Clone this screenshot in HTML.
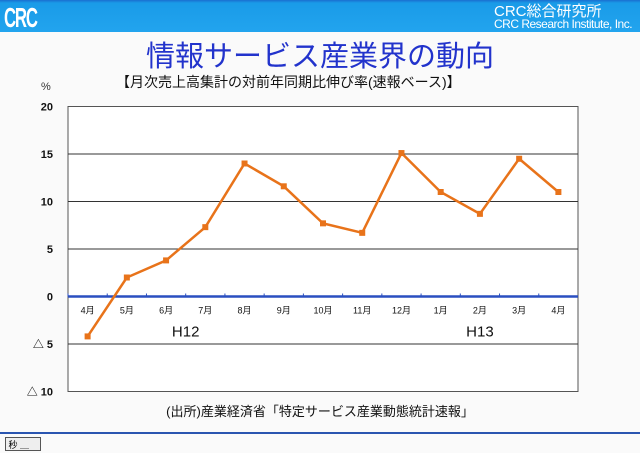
<!DOCTYPE html>
<html><head><meta charset="utf-8"><style>
body{margin:0;width:640px;height:453px;overflow:hidden;background:#fafafa;font-family:"Liberation Sans","Noto Sans CJK JP",sans-serif;position:relative}
.hdr{position:absolute;left:0;top:0;width:640px;height:32px;background:linear-gradient(#1a6fd0 0,#1a9be8 3px,#22a4ee 100%)}
.logo{position:absolute;left:4px;top:2px;color:#fff;font:bold 28px "Liberation Sans",sans-serif;letter-spacing:-2px;transform:scaleX(0.6);transform-origin:left}
.co1{position:absolute;left:494px;top:0px;color:#fff;font-size:15px}
.co2{position:absolute;left:494px;top:17px;color:#fff;font-size:12px;letter-spacing:-0.5px}
.title{position:absolute;left:0;width:640px;top:33px;text-align:center;color:#2233cc;font-size:29px}
.sub{position:absolute;left:116px;top:72px;font-size:14px;color:#111}
.foot{position:absolute;left:0;width:640px;top:401px;text-align:center;font-size:13px;color:#111}
.bline{position:absolute;left:0;top:432px;width:640px;height:2px;background:#2a55b0}
.btn{position:absolute;left:5px;top:437px;width:34px;height:12px;border:1px solid #555;background:#eee;font-size:9px}
</style></head><body>
<div class="hdr"></div>
<div class="logo">CRC</div>
<div class="co1">CRC総合研究所</div>
<div class="co2">CRC Research Institute, Inc.</div>
<div class="title">情報サービス産業界の動向</div>
<div class="sub">【月次売上高集計の対前年同期比伸び率(速報ベース)】</div>
<svg id="c" width="640" height="453" style="position:absolute;left:0;top:0"></svg>
<div class="foot">(出所)産業経済省「特定サービス産業動態統計速報」</div>
<div class="bline"></div>
<div class="btn">&nbsp;秒 ＿</div>
<script>
const categories=["4月","5月","6月","7月","8月","9月","10月","11月","12月","1月","2月","3月","4月"];
const values=[-4.2,2.0,3.8,7.3,14.0,11.6,7.7,6.7,15.1,11.0,8.7,14.5,11.0];
const yTicks=[20,15,10,5,0,-5,-10];
const yTickLabels=["20","15","10","5","0","△ 5","△ 10"];
const ns="http://www.w3.org/2000/svg",svg=document.getElementById('c');
const L=68,R=578,T=106.5,B=391.5,yMin=-10,yMax=20;
const y=v=>B-(v-yMin)/(yMax-yMin)*(B-T);
const step=(R-L)/categories.length;
const x=i=>L+step*(i+0.5);
function el(t,a,txt){const e=document.createElementNS(ns,t);for(const k in a)e.setAttribute(k,a[k]);if(txt!=null)e.textContent=txt;svg.appendChild(e);return e;}
let bg=el('rect',{x:L,y:T,width:R-L,height:B-T,fill:'#fff',stroke:'#555','stroke-width':1});

yTicks.forEach((v,i)=>{
 if(v!==0&&v!==yMin&&v!==yMax){const g=el('line',{x1:L,x2:R,y1:y(v),y2:y(v),stroke:'#333','stroke-width':1});
 }
 const t=el('text',{x:53,y:y(v)+4,'text-anchor':'end','font-size':11,'font-weight':'bold',fill:'#111','font-family':'"Liberation Sans","Noto Sans CJK JP",sans-serif'},yTickLabels[i]);
 
});
const pc=el('text',{x:41,y:90,'font-size':11,fill:'#333'},'%');

const z=el('line',{x1:L,x2:R,y1:y(0),y2:y(0),stroke:'#2a4fc0','stroke-width':2.5});

categories.forEach((c,i)=>{
 const tk=el('line',{x1:L+step*i,x2:L+step*i,y1:y(0)-3,y2:y(0),stroke:'#2a4fc0'});
 
 const t=el('text',{x:x(i),y:y(0)+17,'text-anchor':'middle','font-size':9,fill:'#111','font-family':'"Liberation Sans","Noto Sans CJK JP",sans-serif'},c);
 
});
[["H12",2.5],["H13",10]].forEach(([s,i])=>{const t=el('text',{x:x(i),y:y(0)+40,'text-anchor':'middle','font-size':15,fill:'#111'},s);
});
const pl=el('polyline',{points:values.map((v,i)=>x(i)+','+y(v)).join(' '),fill:'none',stroke:'#e8731a','stroke-width':2.5});

values.forEach((v,i)=>{const p=el('rect',{x:x(i)-3,y:y(v)-3,width:6,height:6,fill:'#e8731a'});
});
</script>
</body></html>
